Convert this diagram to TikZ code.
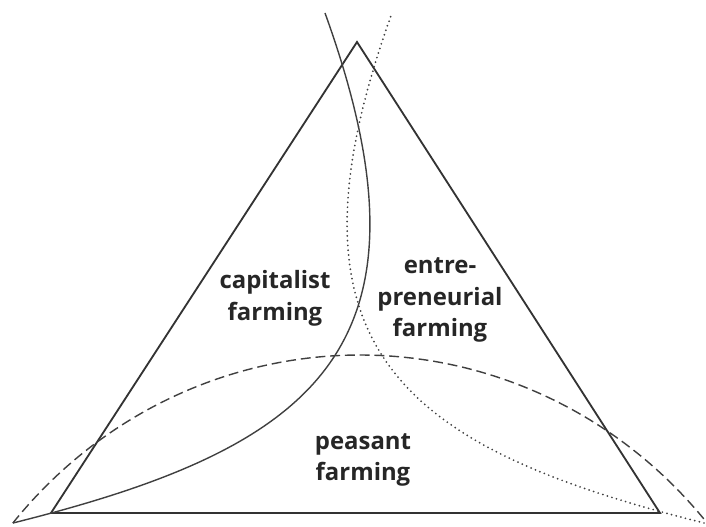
\documentclass[tikz,border=0pt]{standalone}
\usepackage{fontspec}
\setmainfont{Open Sans}
\begin{document}
\begin{tikzpicture}[
x=0.025cm, y=0.025cm,
edge/.style={line width=1.3pt, draw=black!80},
split/.style={line width=1pt, draw=black!75},
areatext/.style={font=\fontsize{17}{22.5}\selectfont\bfseries, align=center, text=black!85}
]
\useasboundingbox (0,0) rectangle (706,527);
\clip (0,0) rectangle (706,527);
\coordinate (apex) at (357,485);
\coordinate (lcorner) at (51,14);
\coordinate (rcorner) at (660,14);
\draw[edge] (lcorner) -- (apex) -- (rcorner) -- cycle;
% dividing curves
\draw[split, dash pattern=on 7pt off 3.5pt] (360,-290) ++(140.5:450 and 462)
  arc[start angle=140.5, end angle=38, x radius=450, y radius=462];
\draw[split] (13,4) .. controls (313,79) and (447,176) .. (325,514);
\draw[split, line width=1.4pt, dash pattern=on 0pt off 3.4pt, line cap=round] (704,4) .. controls (404,79) and (270,176) .. (392,514);
\node[areatext] (capital) at (275,229) {capitalist\\farming};
\node[areatext] (entre) at (440,227) {entre-\\preneurial\\farming};
\node[areatext] (peasant) at (363,67) {peasant\\farming};
\end{tikzpicture}
\end{document}
